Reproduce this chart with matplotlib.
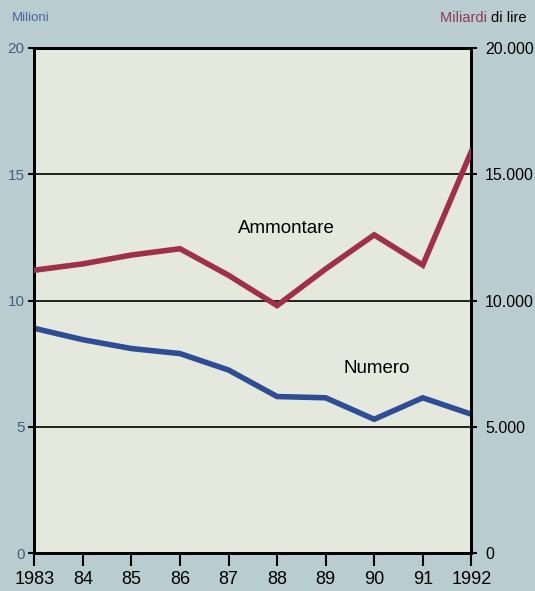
import numpy as np
import matplotlib.pyplot as plt

plt.rcParams['font.family'] = ['Liberation Sans', 'DejaVu Sans']

anni = [1983, 1984, 1985, 1986, 1987, 1988, 1989, 1990, 1991, 1992]
etichette_anni = ["1983", "84", "85", "86", "87", "88", "89", "90", "91", "1992"]
# numero (milioni) e ammontare (miliardi di lire)
numero = [8.9, 8.45, 8.1, 7.9, 7.25, 6.2, 6.15, 5.3, 6.15, 5.5]
ammontare = [11200, 11450, 11800, 12050, 11000, 9800, 11250, 12600, 11400, 15900]

tick_sx = [0, 5, 10, 15, 20]
tick_dx = [0, 5000, 10000, 15000, 20000]
etichette_dx = ["0", "5.000", "10.000", "15.000", "20.000"]

sfondo = "#b9cdd1"
interno = "#e5e9dd"
rosso = "#9e3047"
blu = "#2e4d95"

fig = plt.figure(figsize=(5.35, 5.91), dpi=100, facecolor=sfondo)
ax = fig.add_axes([0.064, 0.064, 0.817, 0.855])
ax.set_facecolor(interno)
ax2 = ax.twinx()

ax.set_xlim(1983, 1992)
ax.set_ylim(0, 20)
ax2.set_ylim(0, 20000)

for y in [5, 10, 15]:
    ax.axhline(y, color="black", lw=1.2, zorder=1)

ax.plot(anni, numero, color=blu, lw=4, solid_joinstyle="miter", zorder=3)
ax2.plot(anni, ammontare, color=rosso, lw=4, solid_joinstyle="miter", zorder=3)

ax.text(1988.2, 12.85, "Ammontare", fontsize=13.5, ha="center", va="center")
ax.text(1990.05, 7.3, "Numero", fontsize=13.5, ha="center", va="center")

for a in (ax, ax2):
    for s in a.spines.values():
        s.set_linewidth(2)

ax.set_xticks(anni)
ax.set_xticklabels(etichette_anni, fontsize=13)
ax.tick_params(axis="x", length=9, width=1.5, pad=4)
ax.set_yticks(tick_sx)
ax.set_yticklabels([str(t) for t in tick_sx], fontsize=11, color="#4a5b7e")
ax.tick_params(axis="y", length=4, width=1.5, pad=3)
ax2.set_yticks(tick_dx)
ax2.set_yticklabels(etichette_dx, fontsize=11.5)
ax2.tick_params(axis="y", length=4, width=1.5, pad=6)

fig.text(0.022, 0.9695, "Milioni", fontsize=9.5, color="#4a66a0", ha="left", va="center")
t_lire = fig.text(0.985, 0.9695, "di lire", fontsize=10.5, color="black", ha="right", va="center")
ax.annotate("Miliardi ", xy=(0, 0.5), xycoords=t_lire, fontsize=10.5, color="#8c3a55",
            ha="right", va="center", annotation_clip=False)

fig.savefig("out.png", dpi=100, facecolor=sfondo)
